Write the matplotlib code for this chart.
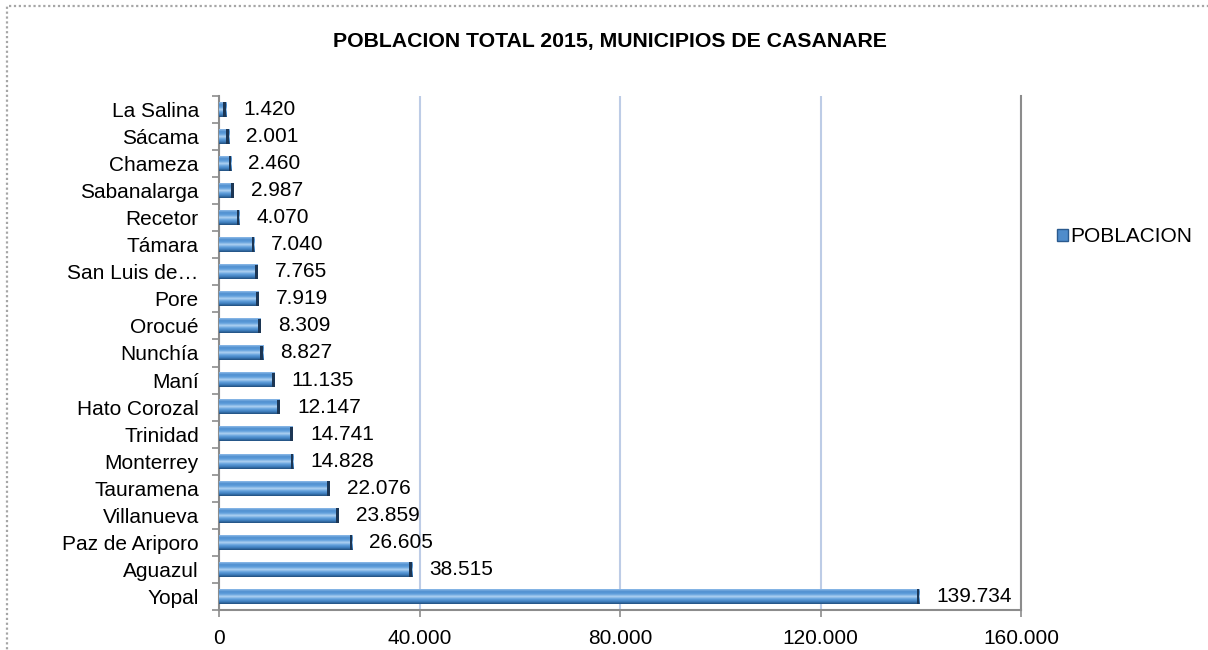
import matplotlib.pyplot as plt
import numpy as np
from matplotlib.colors import LinearSegmentedColormap
from matplotlib.patches import Patch, Rectangle

plt.rcParams['font.family'] = ['Liberation Sans', 'DejaVu Sans']

# datos, de abajo (Yopal) hacia arriba (La Salina)
municipios = ['Yopal', 'Aguazul', 'Paz de Ariporo', 'Villanueva', 'Tauramena',
              'Monterrey', 'Trinidad', 'Hato Corozal', 'Maní', 'Nunchía',
              'Orocué', 'Pore', 'San Luis de…', 'Támara', 'Recetor',
              'Sabanalarga', 'Chameza', 'Sácama', 'La Salina']
poblacion = [139734, 38515, 26605, 23859, 22076, 14828, 14741, 12147, 11135,
             8827, 8309, 7919, 7765, 7040, 4070, 2987, 2460, 2001, 1420]
xticks = [0, 40000, 80000, 120000, 160000]
xtick_labels = ['0', '40.000', '80.000', '120.000', '160.000']

fig = plt.figure(figsize=(12.08, 6.5), dpi=100)
ax = fig.add_axes([219/1208, 1 - 610/650, 802/1208, 514/650])

# gradiente vertical tipo bisel (arriba -> abajo)
bevel = LinearSegmentedColormap.from_list('bevel', [
    '#8EBBE8', '#4F8FD0', '#62A0DC', '#B0D2F2', '#62A0DC', '#4080C0', '#22507F'])
grad = np.linspace(0, 1, 64).reshape(-1, 1)

h = 0.54
for i, v in enumerate(poblacion):
    ax.imshow(grad, cmap=bevel, aspect='auto', origin='upper',
              extent=(0, v, i - h/2, i + h/2), zorder=3)
    cap = min(550, v * 0.4)
    ax.barh(i, cap, left=v - cap, height=h, color='#1C3654', zorder=4)
    ax.annotate(f'{v:,}'.replace(',', '.'), (v, i), xytext=(17, 0),
                textcoords='offset pixels',
                va='center', ha='left', fontsize=15, color='black')

ax.set_xlim(0, 160000)
ax.set_ylim(-0.5, len(municipios) - 0.5)

ax.set_xticks(xticks)
ax.set_xticklabels(xtick_labels, fontsize=15)
ax.tick_params(axis='x', length=5, width=1.2, color='#8C8C8C', pad=9)

ax.set_yticks(np.arange(-0.5, len(municipios), 1.0))
ax.set_yticklabels([])
ax.set_yticks(np.arange(len(municipios)), minor=True)
ax.set_yticklabels(municipios, minor=True, fontsize=15)
ax.tick_params(axis='y', which='major', length=5, width=1.2, color='#8C8C8C')
ax.tick_params(axis='y', which='minor', length=0, pad=14.5)

ax.grid(axis='x', color='#BDCCE6', linewidth=1.5, zorder=0)
ax.set_axisbelow(True)
ax.spines['top'].set_visible(False)
for s in ('left', 'bottom', 'right'):
    ax.spines[s].set_color('#8C8C8C')
    ax.spines[s].set_linewidth(1.5)

fig.text(610/1208, 1 - 41/650, 'POBLACION TOTAL 2015, MUNICIPIOS DE CASANARE',
         ha='center', va='center', fontsize=15.3, fontweight='bold')

handle = Patch(facecolor='#4F8CCB', edgecolor='#2A5A8E', linewidth=1)
fig.legend([handle], ['POBLACION'], loc='center left',
           bbox_to_anchor=(1038/1208, 1 - 237/650), frameon=False,
           fontsize=15, handlelength=0.55, handleheight=0.55, handletextpad=0.1)

# borde punteado del area del grafico
fig.patches.append(Rectangle((7/1208, -0.05), 1.2, 1 - 6/650 + 0.05,
                             transform=fig.transFigure, fill=False,
                             edgecolor='#A6A6A6', linewidth=1.6,
                             linestyle=(0, (1, 1.2))))

fig.savefig('out.png', dpi=100)
